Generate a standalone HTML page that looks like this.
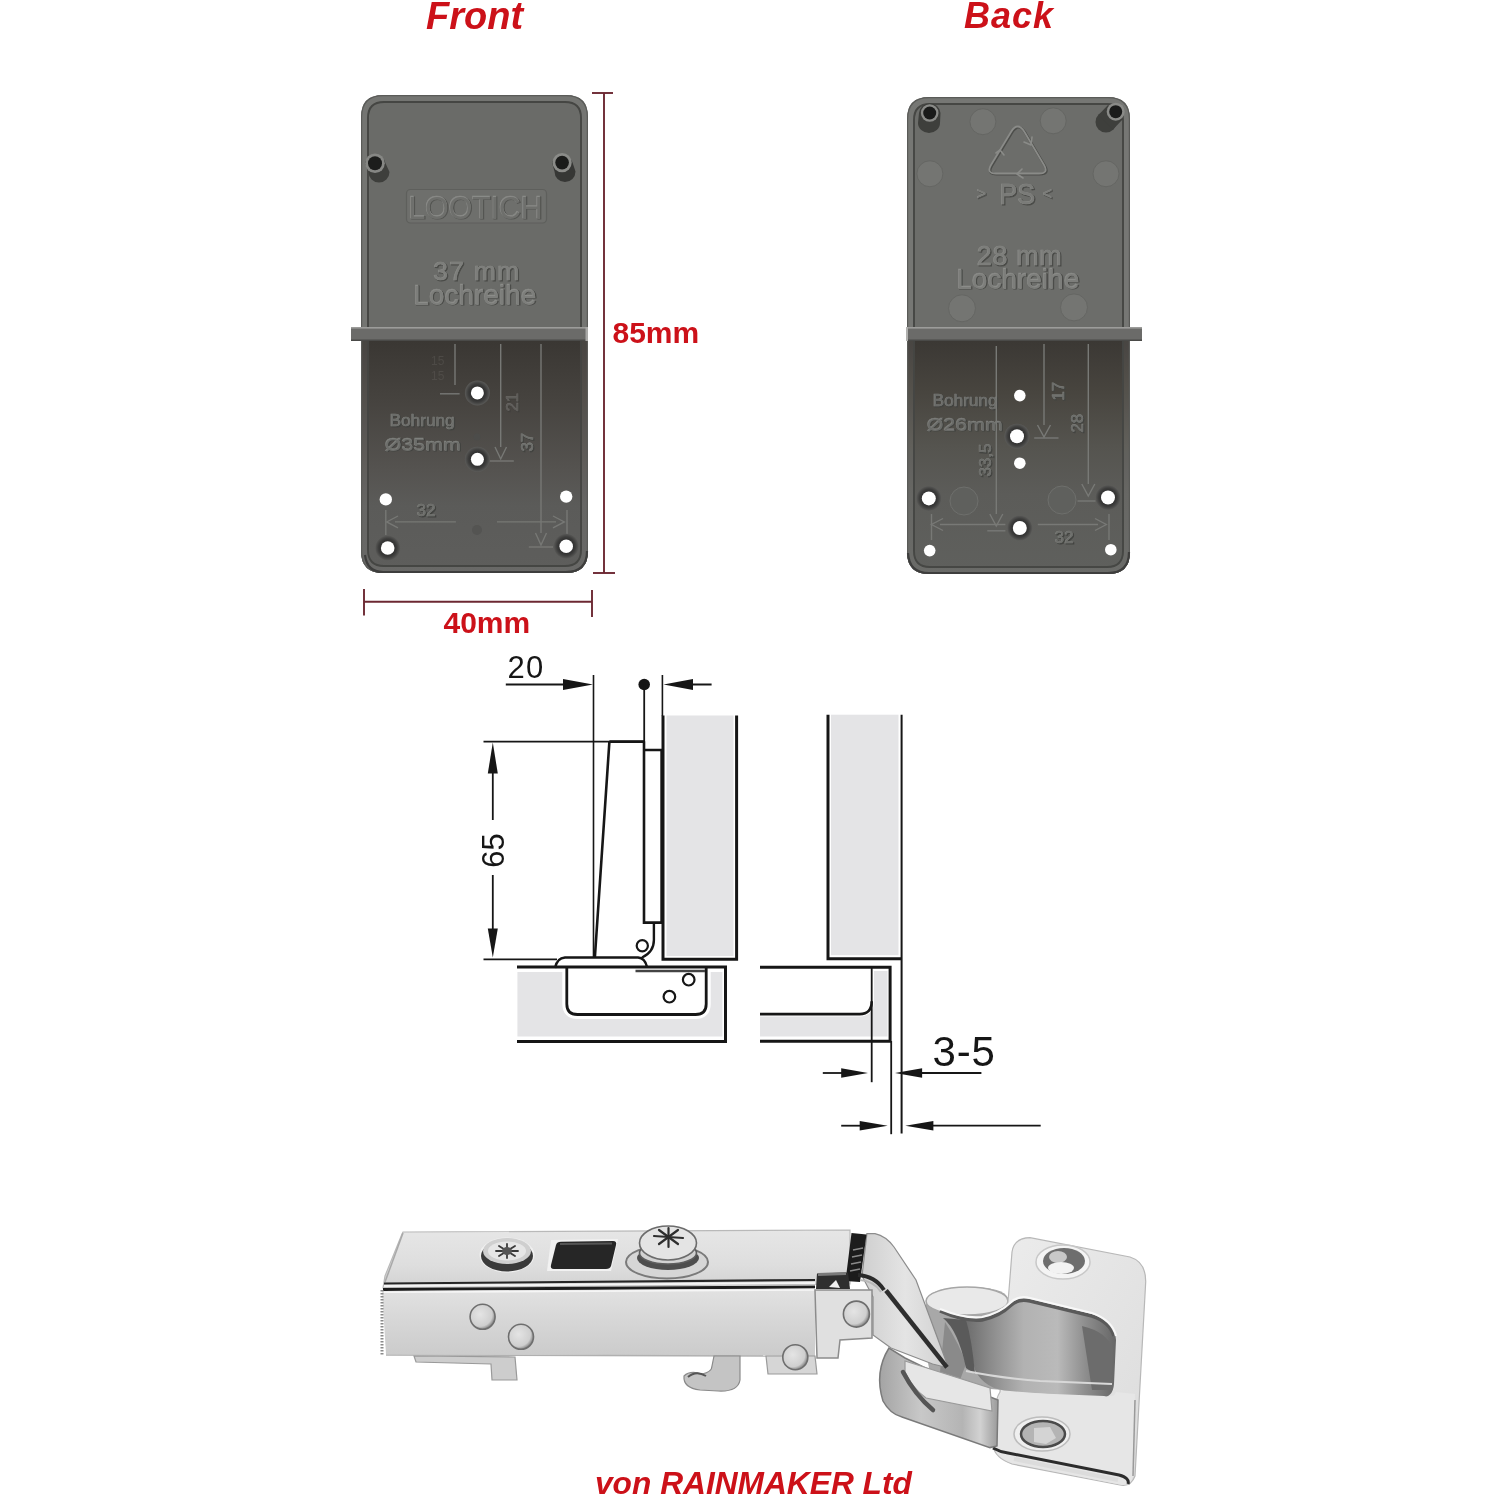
<!DOCTYPE html>
<html><head><meta charset="utf-8">
<style>
html,body{margin:0;padding:0;background:#fff;width:1498px;height:1498px;overflow:hidden}
svg{display:block;will-change:transform}
text{font-family:"Liberation Sans",sans-serif}
</style></head><body>
<svg width="1498" height="1498" viewBox="0 0 1498 1498">
<defs>
<linearGradient id="plateG" x1="0" y1="0" x2="1" y2="0">
<stop offset="0" stop-color="#666"/><stop offset="0.5" stop-color="#6e6e6e"/><stop offset="1" stop-color="#6a6a6a"/>
</linearGradient>
</defs>
<rect width="1498" height="1498" fill="#fff"/>

<!-- TITLES -->
<text x="426" y="29.3" font-size="38" font-weight="bold" font-style="italic" fill="#cc1119">Front</text>
<text x="964" y="27.6" font-size="36" font-weight="bold" font-style="italic" fill="#cc1119" letter-spacing="1">Back</text>

<!-- FRONT PLATE -->
<g id="front">
<defs>
<clipPath id="fclip"><path d="M383,95 H566 Q588,95 588,117 V551 Q588,573 566,573 H383 Q361,573 361,551 V117 Q361,95 383,95 Z"/></clipPath>
<linearGradient id="flow" x1="0" y1="0" x2="0" y2="1">
<stop offset="0" stop-color="#3a3733"/><stop offset="0.25" stop-color="#46433f"/><stop offset="0.55" stop-color="#555350"/><stop offset="0.7" stop-color="#5b5b59"/><stop offset="1" stop-color="#5e5e5c"/>
</linearGradient>
<radialGradient id="csink" cx="0.5" cy="0.5" r="0.5">
<stop offset="0.45" stop-color="#2a2a2a"/><stop offset="0.75" stop-color="#3e3e3d"/><stop offset="1" stop-color="#5a5a58"/>
</radialGradient>
</defs>
<path d="M383,95 H566 Q588,95 588,117 V551 Q588,573 566,573 H383 Q361,573 361,551 V117 Q361,95 383,95 Z" fill="#6a6b68"/>
<g clip-path="url(#fclip)">
<rect x="355" y="341" width="240" height="235" fill="url(#flow)"/>
</g>
<!-- rim -->
<path d="M383.5,98.3 H565.5 Q584.7,98.3 584.7,117.5 V550.5 Q584.7,569.7 565.5,569.7 H383.5 Q364.3,569.7 364.3,550.5 V117.5 Q364.3,98.3 383.5,98.3 Z" fill="none" stroke="rgba(255,255,255,0.07)" stroke-width="6.5"/>
<path d="M384,102 H565 Q581,102 581,118 V550 Q581,566 565,566 H384 Q368,566 368,550 V118 Q368,102 384,102 Z" fill="none" stroke="#454643" stroke-width="1.9"/>
<path d="M383,95.6 H566 Q587.4,95.6 587.4,117 V551 Q587.4,572.4 566,572.4 H383 Q361.6,572.4 361.6,551 V117 Q361.6,95.6 383,95.6 Z" fill="none" stroke="#5a5b58" stroke-width="1.2"/>
<path d="M365,555 Q367,572 383,572 H566 Q587,572 587,551" fill="none" stroke="#3e3e3d" stroke-width="2.2"/>
<!-- ledge -->
<rect x="351" y="327" width="237" height="14" fill="#6b6b69"/>
<rect x="351" y="327" width="237" height="1.6" fill="#9c9c9a"/>
<rect x="351" y="339.5" width="237" height="1.5" fill="#4a4a48"/>
<rect x="585.5" y="327" width="2.5" height="14" fill="#a8a8a6"/>
<!-- pins -->
<g>
<path d="M365,163.2 A10.5,10.5 0 0 1 385.5,163.2 L389.5,172 A10.5,10.5 0 0 1 368.5,172 Z" fill="#3e3f3c"/>
<circle cx="375" cy="163.2" r="9.8" fill="#868784"/>
<circle cx="375" cy="163.2" r="7" fill="#1c1d1c"/>
<path d="M552,162.6 A10.5,10.5 0 0 1 572.5,162.6 L575.5,171.5 A10.5,10.5 0 0 1 554.5,171.5 Z" fill="#363735"/>
<circle cx="562.1" cy="162.6" r="9.6" fill="#8a8b88"/>
<circle cx="562.1" cy="162.6" r="6.8" fill="#1a1b1a"/>
</g>
<!-- LOOTICH -->
<rect x="406.5" y="189.5" width="140" height="33.5" rx="4" fill="#6e6f6c" stroke="#5e5f5c" stroke-width="1.2"/>
<!-- 37 mm Lochreihe -->
<!-- embossed lines lower -->
<g stroke="#777875" stroke-width="1.4" fill="none">
<line x1="500.7" y1="344" x2="500.7" y2="447"/>
<path d="M495,447 L500.7,459 L506.5,447"/>
<line x1="489.5" y1="461" x2="513.8" y2="461"/>
<line x1="541" y1="344" x2="541" y2="533"/>
<path d="M535.5,533 L541,545 L546.5,533"/>
<line x1="528.8" y1="547" x2="553" y2="547"/>
<line x1="395" y1="521.9" x2="455.9" y2="521.9"/>
<path d="M398,516 L386.7,521.9 L398,527.8"/>
<line x1="497" y1="521.9" x2="556" y2="521.9"/>
<path d="M553,516 L564.3,521.9 L553,527.8"/>
<line x1="385.8" y1="510" x2="385.8" y2="535"/>
<line x1="567" y1="510" x2="567" y2="535"/>
<line x1="440" y1="393.8" x2="459.6" y2="393.8"/>
<line x1="455" y1="344" x2="455" y2="385"/>
</g>
<!--TXT-->
<text x="409.3" y="219.3" font-size="31" fill="#545552" stroke="#545552" stroke-width="1.1" textLength="134" lengthAdjust="spacingAndGlyphs">LOOTICH</text>
<text x="408.1" y="218.1" font-size="31" fill="#8a8b88" stroke="#8a8b88" stroke-width="0.6" textLength="134" lengthAdjust="spacingAndGlyphs">LOOTICH</text>
<text x="408.5" y="218.5" font-size="31" fill="#6e6f6c" stroke="#6e6f6c" stroke-width="0.0" textLength="134" lengthAdjust="spacingAndGlyphs">LOOTICH</text>
<text x="434.3" y="280.8" font-size="26.5" fill="#4a4b48" stroke="#4a4b48" stroke-width="1.0" textLength="86" lengthAdjust="spacing">37 mm</text>
<text x="433.1" y="279.6" font-size="26.5" fill="#8b8c89" stroke="#8b8c89" stroke-width="0.5" textLength="86" lengthAdjust="spacing">37 mm</text>
<text x="433.5" y="280.0" font-size="26.5" fill="#7d7e7b" stroke="#7d7e7b" stroke-width="0.0" textLength="86" lengthAdjust="spacing">37 mm</text>
<text x="414.3" y="305.3" font-size="28" fill="#4a4b48" stroke="#4a4b48" stroke-width="1.0" >Lochreihe</text>
<text x="413.1" y="304.1" font-size="28" fill="#8b8c89" stroke="#8b8c89" stroke-width="0.5" >Lochreihe</text>
<text x="413.5" y="304.5" font-size="28" fill="#7d7e7b" stroke="#7d7e7b" stroke-width="0.0" >Lochreihe</text>
<text x="390.8" y="426.8" font-size="17" fill="#424340" stroke="#424340" stroke-width="0.9" textLength="65" lengthAdjust="spacingAndGlyphs">Bohrung</text>
<text x="389.6" y="425.6" font-size="17" fill="#7f807d" stroke="#7f807d" stroke-width="0.4" textLength="65" lengthAdjust="spacingAndGlyphs">Bohrung</text>
<text x="390.0" y="426.0" font-size="17" fill="#6c6d6a" stroke="#6c6d6a" stroke-width="0.0" textLength="65" lengthAdjust="spacingAndGlyphs">Bohrung</text>
<text x="385.8" y="451.3" font-size="17" fill="#424340" stroke="#424340" stroke-width="0.9" textLength="76" lengthAdjust="spacingAndGlyphs">Ø35mm</text>
<text x="384.6" y="450.1" font-size="17" fill="#7f807d" stroke="#7f807d" stroke-width="0.4" textLength="76" lengthAdjust="spacingAndGlyphs">Ø35mm</text>
<text x="385.0" y="450.5" font-size="17" fill="#6c6d6a" stroke="#6c6d6a" stroke-width="0.0" textLength="76" lengthAdjust="spacingAndGlyphs">Ø35mm</text>
<text x="417.8" y="516.8" font-size="17" fill="#424340" stroke="#424340" stroke-width="0.9" >32</text>
<text x="416.6" y="515.5" font-size="17" fill="#7f807d" stroke="#7f807d" stroke-width="0.4" >32</text>
<text x="417.0" y="516.0" font-size="17" fill="#6c6d6a" stroke="#6c6d6a" stroke-width="0.0" >32</text>
<text transform="translate(533.8,452.8) rotate(-90)" font-size="17" fill="#424340" stroke="#424340" stroke-width="0.9" >37</text>
<text transform="translate(532.5,451.6) rotate(-90)" font-size="17" fill="#7f807d" stroke="#7f807d" stroke-width="0.4" >37</text>
<text transform="translate(533.0,452.0) rotate(-90)" font-size="17" fill="#6c6d6a" stroke="#6c6d6a" stroke-width="0.0" >37</text>
<text transform="translate(518.8,412.8) rotate(-90)" font-size="17" fill="#42403d" stroke="#42403d" stroke-width="0.9" >21</text>
<text transform="translate(517.5,411.6) rotate(-90)" font-size="17" fill="#6f6d6a" stroke="#6f6d6a" stroke-width="0.4" >21</text>
<text transform="translate(518.0,412.0) rotate(-90)" font-size="17" fill="#5e5c59" stroke="#5e5c59" stroke-width="0.0" >21</text>
<text x="431" y="365" font-size="12" fill="#4d4a46">15</text>
<text x="431" y="380" font-size="12" fill="#4f4c48">15</text>
<!-- holes -->
<circle cx="477.4" cy="392.9" r="12.5" fill="url(#csink)"/>
<circle cx="477.4" cy="392.9" r="6.5" fill="#fff"/>
<circle cx="477.4" cy="459.3" r="12.5" fill="url(#csink)"/>
<circle cx="477.4" cy="459.3" r="6.5" fill="#fff"/>
<circle cx="385.8" cy="499.4" r="6.2" fill="#fff"/>
<circle cx="566.2" cy="496.6" r="6.2" fill="#fff"/>
<circle cx="387.7" cy="548" r="12.5" fill="url(#csink)"/>
<circle cx="387.7" cy="548" r="6.8" fill="#fff"/>
<circle cx="566.2" cy="546.2" r="12.5" fill="url(#csink)"/>
<circle cx="566.2" cy="546.2" r="6.8" fill="#fff"/>
<circle cx="477" cy="437" r="3.5" fill="#4c4c4a"/>
<circle cx="477" cy="530" r="5" fill="#545452"/>
</g>

<!-- BACK PLATE -->
<g id="back">
<defs>
<clipPath id="bclip"><path d="M929,97 H1108 Q1130,97 1130,119 V552 Q1130,574 1108,574 H929 Q907,574 907,552 V119 Q907,97 929,97 Z"/></clipPath>
<linearGradient id="blow" x1="0" y1="0" x2="0" y2="1">
<stop offset="0" stop-color="#3b3834"/><stop offset="0.22" stop-color="#48453f"/><stop offset="0.45" stop-color="#55544f"/><stop offset="0.65" stop-color="#5c5c59"/><stop offset="1" stop-color="#5f605d"/>
</linearGradient>
</defs>
<path d="M929,97 H1108 Q1130,97 1130,119 V552 Q1130,574 1108,574 H929 Q907,574 907,552 V119 Q907,97 929,97 Z" fill="#6c6d6a"/>
<g clip-path="url(#bclip)">
<rect x="900" y="341" width="240" height="235" fill="url(#blow)"/>
</g>
<path d="M929.5,100.3 H1107.5 Q1126.7,100.3 1126.7,119.5 V551.5 Q1126.7,570.7 1107.5,570.7 H929.5 Q910.3,570.7 910.3,551.5 V119.5 Q910.3,100.3 929.5,100.3 Z" fill="none" stroke="rgba(255,255,255,0.07)" stroke-width="6.5"/>
<path d="M930,104 H1107 Q1123,104 1123,120 V551 Q1123,567 1107,567 H930 Q914,567 914,551 V120 Q914,104 930,104 Z" fill="none" stroke="#464744" stroke-width="1.9"/>
<path d="M929,97.6 H1108 Q1129.4,97.6 1129.4,119 V552 Q1129.4,573.4 1108,573.4 H929 Q907.6,573.4 907.6,552 V119 Q907.6,97.6 929,97.6 Z" fill="none" stroke="#5a5b58" stroke-width="1.2"/>
<path d="M908,553 Q909,573 929,573 H1108 Q1129,573 1129,552" fill="none" stroke="#3e3e3d" stroke-width="2.2"/>
<!-- ledge -->
<rect x="907" y="327" width="235" height="14" fill="#6b6b69"/>
<rect x="907" y="327" width="235" height="1.6" fill="#9c9c9a"/>
<rect x="907" y="339.5" width="235" height="1.5" fill="#4a4a48"/>
<rect x="906" y="327" width="2" height="14" fill="#b0b0ae"/>
<!-- faint circles -->
<g fill="#747572" stroke="#656663" stroke-width="1">
<circle cx="982.9" cy="121.7" r="13"/>
<circle cx="1053.2" cy="120.8" r="13"/>
<circle cx="929.9" cy="173.75" r="13"/>
<circle cx="1106" cy="173.75" r="13"/>
<circle cx="962" cy="308.3" r="13.5"/>
<circle cx="1074" cy="307.4" r="13.5"/>
</g>
<g fill="#5f605d" stroke="#6e6f6c" stroke-width="1">
<circle cx="964" cy="501" r="14"/>
<circle cx="1062" cy="500" r="14"/>
</g>
<!-- pins -->
<path d="M919,113 A10.8,10.8 0 0 1 940.5,113 L940,123 A11,10 0 0 1 918,123 Z" fill="#3e3f3c"/>
<circle cx="929.7" cy="113" r="8.8" fill="#8a8b88"/>
<circle cx="929.7" cy="113" r="6.5" fill="#1a1b1a"/>
<circle cx="1106" cy="122" r="10.5" fill="#3e3f3c"/>
<path d="M1108.5,104.5 L1123,119 L1113,129.5 L1098.5,115 Z" fill="#3e3f3c"/>
<circle cx="1115.7" cy="111.7" r="9" fill="#8a8b88"/>
<circle cx="1115.7" cy="111.7" r="6.5" fill="#1a1b1a"/>
<!-- recycle triangle -->
<g fill="none" stroke-linejoin="round" stroke-linecap="round">
<path d="M1011,132 Q1017.6,121 1024.5,132 L1044,165 Q1049,173.5 1039,173.5 L996,173.5 Q986,173.5 991,165 Z" stroke="#4c4d4a" stroke-width="2.6" transform="translate(0.8,0.8)"/>
<path d="M1011,132 Q1017.6,121 1024.5,132 L1044,165 Q1049,173.5 1039,173.5 L996,173.5 Q986,173.5 991,165 Z" stroke="#8a8b88" stroke-width="1.8"/>
<path d="M1024,142 L1031,145 L1032,137 M1022,169 L1017,174 L1023,178 M996,153 L1000,150 L1004,155" stroke="#8a8b88" stroke-width="1.6"/>
</g>
<!--TXT-->
<text x="977.8" y="199.8" font-size="16" fill="#50514e" stroke="#50514e" stroke-width="0.9" >&gt;</text>
<text x="976.5" y="198.6" font-size="16" fill="#8a8b88" stroke="#8a8b88" stroke-width="0.4" >&gt;</text>
<text x="977.0" y="199.0" font-size="16" fill="#7a7b78" stroke="#7a7b78" stroke-width="0.0" >&gt;</text>
<text x="1043.8" y="199.8" font-size="16" fill="#50514e" stroke="#50514e" stroke-width="0.9" >&lt;</text>
<text x="1042.5" y="198.6" font-size="16" fill="#8a8b88" stroke="#8a8b88" stroke-width="0.4" >&lt;</text>
<text x="1043.0" y="199.0" font-size="16" fill="#7a7b78" stroke="#7a7b78" stroke-width="0.0" >&lt;</text>
<text x="1000.3" y="204.8" font-size="29" fill="#4a4b48" stroke="#4a4b48" stroke-width="1.0" textLength="36" lengthAdjust="spacingAndGlyphs">PS</text>
<text x="999.0" y="203.6" font-size="29" fill="#8b8c89" stroke="#8b8c89" stroke-width="0.5" textLength="36" lengthAdjust="spacingAndGlyphs">PS</text>
<text x="999.5" y="204.0" font-size="29" fill="#7a7b78" stroke="#7a7b78" stroke-width="0.0" textLength="36" lengthAdjust="spacingAndGlyphs">PS</text>
<text x="977.8" y="265.8" font-size="27" fill="#4a4b48" stroke="#4a4b48" stroke-width="1.0" textLength="85" lengthAdjust="spacing">28 mm</text>
<text x="976.5" y="264.6" font-size="27" fill="#8b8c89" stroke="#8b8c89" stroke-width="0.5" textLength="85" lengthAdjust="spacing">28 mm</text>
<text x="977.0" y="265.0" font-size="27" fill="#7d7e7b" stroke="#7d7e7b" stroke-width="0.0" textLength="85" lengthAdjust="spacing">28 mm</text>
<text x="957.3" y="289.3" font-size="28" fill="#4a4b48" stroke="#4a4b48" stroke-width="1.0" textLength="123" lengthAdjust="spacingAndGlyphs">Lochreihe</text>
<text x="956.0" y="288.1" font-size="28" fill="#8b8c89" stroke="#8b8c89" stroke-width="0.5" textLength="123" lengthAdjust="spacingAndGlyphs">Lochreihe</text>
<text x="956.5" y="288.5" font-size="28" fill="#7d7e7b" stroke="#7d7e7b" stroke-width="0.0" textLength="123" lengthAdjust="spacingAndGlyphs">Lochreihe</text>
<text x="933.8" y="406.8" font-size="17" fill="#434441" stroke="#434441" stroke-width="0.9" textLength="65" lengthAdjust="spacingAndGlyphs">Bohrung</text>
<text x="932.5" y="405.6" font-size="17" fill="#7d7e7b" stroke="#7d7e7b" stroke-width="0.4" textLength="65" lengthAdjust="spacingAndGlyphs">Bohrung</text>
<text x="933.0" y="406.0" font-size="17" fill="#6a6b68" stroke="#6a6b68" stroke-width="0.0" textLength="65" lengthAdjust="spacingAndGlyphs">Bohrung</text>
<text x="927.8" y="431.3" font-size="17" fill="#434441" stroke="#434441" stroke-width="0.9" textLength="76" lengthAdjust="spacingAndGlyphs">Ø26mm</text>
<text x="926.5" y="430.1" font-size="17" fill="#7d7e7b" stroke="#7d7e7b" stroke-width="0.4" textLength="76" lengthAdjust="spacingAndGlyphs">Ø26mm</text>
<text x="927.0" y="430.5" font-size="17" fill="#6a6b68" stroke="#6a6b68" stroke-width="0.0" textLength="76" lengthAdjust="spacingAndGlyphs">Ø26mm</text>
<text x="1055.8" y="543.8" font-size="17" fill="#434441" stroke="#434441" stroke-width="0.9" >32</text>
<text x="1054.5" y="542.5" font-size="17" fill="#7f807d" stroke="#7f807d" stroke-width="0.4" >32</text>
<text x="1055.0" y="543.0" font-size="17" fill="#6c6d6a" stroke="#6c6d6a" stroke-width="0.0" >32</text>
<text transform="translate(1064.8,401.8) rotate(-90)" font-size="17" fill="#434441" stroke="#434441" stroke-width="0.9" >17</text>
<text transform="translate(1063.5,400.6) rotate(-90)" font-size="17" fill="#7f807d" stroke="#7f807d" stroke-width="0.4" >17</text>
<text transform="translate(1064.0,401.0) rotate(-90)" font-size="17" fill="#6c6d6a" stroke="#6c6d6a" stroke-width="0.0" >17</text>
<text transform="translate(1083.8,433.8) rotate(-90)" font-size="17" fill="#434441" stroke="#434441" stroke-width="0.9" >28</text>
<text transform="translate(1082.5,432.6) rotate(-90)" font-size="17" fill="#7f807d" stroke="#7f807d" stroke-width="0.4" >28</text>
<text transform="translate(1083.0,433.0) rotate(-90)" font-size="17" fill="#6c6d6a" stroke="#6c6d6a" stroke-width="0.0" >28</text>
<text transform="translate(991.8,477.8) rotate(-90)" font-size="17" fill="#434441" stroke="#434441" stroke-width="0.9" >33,5</text>
<text transform="translate(990.5,476.6) rotate(-90)" font-size="17" fill="#7f807d" stroke="#7f807d" stroke-width="0.4" >33,5</text>
<text transform="translate(991.0,477.0) rotate(-90)" font-size="17" fill="#6c6d6a" stroke="#6c6d6a" stroke-width="0.0" >33,5</text>
<!-- lower embossed lines -->
<g stroke="#787976" stroke-width="1.4" fill="none">
<line x1="1044" y1="344" x2="1044" y2="425"/>
<path d="M1037.5,425 L1044,437 L1050.5,425"/>
<line x1="1034.2" y1="438" x2="1058.5" y2="438"/>
<line x1="1088.3" y1="344" x2="1088.3" y2="484"/>
<path d="M1081.8,484 L1088.3,496 L1094.8,484"/>
<line x1="1077.5" y1="501" x2="1095.5" y2="501"/>
<line x1="996.3" y1="346" x2="996.3" y2="514"/>
<path d="M989.8,514 L996.3,526 L1002.8,514"/>
<line x1="987.3" y1="530.8" x2="1005.4" y2="530.8"/>
<line x1="940" y1="524.5" x2="1005.4" y2="524.5"/>
<path d="M943,518.5 L931.5,524.5 L943,530.5"/>
<line x1="1037.8" y1="524.5" x2="1098" y2="524.5"/>
<path d="M1095,518.5 L1106.3,524.5 L1095,530.5"/>
<line x1="931.5" y1="514" x2="931.5" y2="540"/>
<line x1="1109" y1="514" x2="1109" y2="540"/>
</g>
<!-- holes -->
<circle cx="1019.8" cy="395.6" r="5.8" fill="#fff"/>
<circle cx="1017" cy="436.2" r="12.5" fill="url(#csink)"/>
<circle cx="1017" cy="436.2" r="7" fill="#fff"/>
<circle cx="1019.8" cy="463.2" r="5.8" fill="#fff"/>
<circle cx="928.8" cy="498.4" r="12.5" fill="url(#csink)"/>
<circle cx="928.8" cy="498.4" r="7" fill="#fff"/>
<circle cx="1108" cy="497.5" r="12.5" fill="url(#csink)"/>
<circle cx="1108" cy="497.5" r="7" fill="#fff"/>
<circle cx="1019.8" cy="528" r="12.5" fill="url(#csink)"/>
<circle cx="1019.8" cy="528" r="7" fill="#fff"/>
<circle cx="929.7" cy="550.6" r="5.8" fill="#fff"/>
<circle cx="1110.8" cy="549.7" r="5.8" fill="#fff"/>
</g>

<!-- RED DIMENSIONS -->
<g stroke="#6c2832" stroke-width="1.9" fill="none">
<line x1="604" y1="93" x2="604" y2="573"/>
<line x1="592" y1="93" x2="613" y2="93"/>
<line x1="593" y1="573" x2="615" y2="573"/>
<line x1="364" y1="601.8" x2="592" y2="601.8"/>
<line x1="364" y1="589" x2="364" y2="615.5"/>
<line x1="592" y1="590" x2="592" y2="617"/>
</g>
<text x="612.5" y="342.8" font-size="30" font-weight="bold" fill="#cc1119">85mm</text>
<text x="443.5" y="632.8" font-size="30" font-weight="bold" fill="#cc1119">40mm</text>

<!-- DIAGRAM -->
<g id="diagram" stroke="#161616" fill="none" stroke-linecap="butt">
<!-- gray fills -->
<rect x="666.5" y="715.5" width="67" height="240.5" fill="#e4e4e6" stroke="none"/>
<rect x="831" y="714.7" width="67.5" height="240.5" fill="#e4e4e6" stroke="none"/>
<rect x="517.4" y="972" width="205" height="64.5" fill="#e4e4e6" stroke="none"/>
<path d="M760,1016.5 H859.7 Q874,1016 874,1001 V971 H887.5 V1036.5 H760 Z" fill="#e4e4e6" stroke="none"/>
<!-- cup recess white -->
<path d="M566.8,968 V1004 Q566.8,1014.5 577.4,1014.5 H695.6 Q706.2,1014.5 706.2,1004 V968 Z" fill="#fff" stroke="#fff" stroke-width="9"/>
<path d="M566.8,968 V1004 Q566.8,1014.5 577.4,1014.5 H695.6 Q706.2,1014.5 706.2,1004 V968" stroke-width="2.8"/>
<line x1="635.5" y1="971" x2="705" y2="971" stroke="#444" stroke-width="2.5"/>
<circle cx="688.7" cy="979.7" r="5.8" stroke-width="2.2" fill="#fff"/>
<circle cx="669.4" cy="996.7" r="5.8" stroke-width="2.2" fill="#fff"/>
<!-- panel 1 outline -->
<path d="M517,967 H725.5 V1041.5 H517" stroke-width="3"/>
<!-- base plate of hinge -->
<path d="M555,968 Q557,958 565,957.5 H638 Q645,958 647,967" fill="none" stroke-width="2.5"/>
<!-- door 1 -->
<path d="M663,715.5 V959.2 H736.6 V715.5" stroke-width="3"/>
<!-- hinge arm -->
<path d="M609.4,741.6 H644 M609.4,741.6 L594.9,957" stroke-width="2.6"/>
<path d="M644,741.6 V922.6 H661.6 V750 H644" stroke-width="2.6"/>
<path d="M653.9,922.6 V940 Q653.9,952 642,957.5" stroke-width="2.4"/>
<circle cx="642.3" cy="945.8" r="5.6" stroke-width="2.2"/>
<!-- dimension lines top -->
<line x1="505.8" y1="684.5" x2="570" y2="684.5" stroke-width="2"/>
<path d="M563,679 L593,684.5 L563,690 Z" fill="#161616" stroke="none"/>
<line x1="593.5" y1="675" x2="593.5" y2="957" stroke-width="1.6"/>
<circle cx="644.2" cy="684.5" r="5.8" fill="#161616" stroke="none"/>
<line x1="644.2" y1="684" x2="644.2" y2="742" stroke-width="1.8"/>
<line x1="662.4" y1="675" x2="662.4" y2="716" stroke-width="1.6"/>
<line x1="711.6" y1="684.5" x2="685" y2="684.5" stroke-width="2"/>
<path d="M693,679 L663.5,684.5 L693,690 Z" fill="#161616" stroke="none"/>
<!-- height dimension -->
<line x1="483.5" y1="741.6" x2="644" y2="741.6" stroke-width="1.6"/>
<line x1="483.5" y1="959.4" x2="557" y2="959.4" stroke-width="1.6"/>
<line x1="492.8" y1="760" x2="492.8" y2="820" stroke-width="1.8"/>
<line x1="492.8" y1="875" x2="492.8" y2="940" stroke-width="1.8"/>
<path d="M487.8,773.6 L492.8,742.6 L497.8,773.6 Z" fill="#161616" stroke="none"/>
<path d="M487.8,928.4 L492.8,957.4 L497.8,928.4 Z" fill="#161616" stroke="none"/>
<!-- door 2 -->
<path d="M828,714.7 V958.7 H901.6" stroke-width="3"/>
<line x1="901.6" y1="714.7" x2="901.6" y2="1133.4" stroke-width="2"/>
<!-- panel 2 -->
<path d="M760,967.3 H890.1 V1041.3 H760" stroke-width="3"/>
<path d="M760,1014.1 H859.7 Q871.7,1014.1 871.7,1001.3" stroke-width="2.6"/>
<line x1="871.7" y1="967.3" x2="871.7" y2="1082.2" stroke-width="1.8"/>
<line x1="891.2" y1="1041" x2="891.2" y2="1134.2" stroke-width="1.8"/>
<!-- 3-5 arrows -->
<line x1="822.8" y1="1073" x2="850" y2="1073" stroke-width="1.8"/>
<path d="M841.2,1068.2 L868,1073 L841.2,1077.8 Z" fill="#161616" stroke="none"/>
<line x1="915" y1="1073" x2="981.4" y2="1073" stroke-width="1.8"/>
<path d="M922.1,1068.2 L895,1073 L922.1,1077.8 Z" fill="#161616" stroke="none"/>
<line x1="841.2" y1="1125.7" x2="865" y2="1125.7" stroke-width="1.8"/>
<path d="M859.7,1120.9 L887.7,1125.7 L859.7,1130.5 Z" fill="#161616" stroke="none"/>
<line x1="925" y1="1125.7" x2="1040.7" y2="1125.7" stroke-width="1.8"/>
<path d="M933.4,1120.9 L905.3,1125.7 L933.4,1130.5 Z" fill="#161616" stroke="none"/>
</g>
<text x="507.5" y="678" font-size="31" letter-spacing="1.2" fill="#161616">20</text>
<text transform="translate(503.9,850.5) rotate(-90)" text-anchor="middle" font-size="31" fill="#161616">65</text>
<text x="932.5" y="1065.8" font-size="42" letter-spacing="0.8" fill="#161616">3-5</text>


<!-- HINGE -->
<g id="hinge">
<defs>
<linearGradient id="hTop" x1="0" y1="0" x2="0" y2="1">
<stop offset="0" stop-color="#e6e6e6"/><stop offset="0.6" stop-color="#dedede"/><stop offset="1" stop-color="#d2d2d2"/>
</linearGradient>
<linearGradient id="hSide" x1="0" y1="0" x2="0" y2="1">
<stop offset="0" stop-color="#e2e2e2"/><stop offset="0.5" stop-color="#d6d6d6"/><stop offset="1" stop-color="#cbcbcb"/>
</linearGradient>
<linearGradient id="hPlate" x1="0" y1="0" x2="1" y2="1">
<stop offset="0" stop-color="#ececec"/><stop offset="1" stop-color="#dcdcdc"/>
</linearGradient>
<linearGradient id="hRecess" x1="0" y1="0" x2="1" y2="0">
<stop offset="0" stop-color="#686868"/><stop offset="0.18" stop-color="#8a8a8a"/><stop offset="0.4" stop-color="#b2b2b2"/><stop offset="0.62" stop-color="#bababa"/><stop offset="0.8" stop-color="#8e8e8e"/><stop offset="1" stop-color="#666666"/>
</linearGradient>
<linearGradient id="hArm" x1="0" y1="0" x2="1" y2="0">
<stop offset="0" stop-color="#cfcfcf"/><stop offset="0.5" stop-color="#e4e4e4"/><stop offset="1" stop-color="#d0d0d0"/>
</linearGradient>
<linearGradient id="hLow" x1="0" y1="0" x2="1" y2="0">
<stop offset="0" stop-color="#a4a4a4"/><stop offset="0.35" stop-color="#c8c8c8"/><stop offset="0.7" stop-color="#b4b4b4"/><stop offset="0.85" stop-color="#d2d2d2"/><stop offset="1" stop-color="#9a9a9a"/>
</linearGradient>
<radialGradient id="hRiv" cx="0.4" cy="0.4" r="0.6">
<stop offset="0" stop-color="#e4e4e4"/><stop offset="0.8" stop-color="#cfcfcf"/><stop offset="1" stop-color="#8e8e8e"/>
</radialGradient>
</defs>

<!-- cup behind -->
<path d="M926,1300 Q930,1288 966,1287 Q1004,1287 1008,1298 L1004,1390 L935,1385 Q922,1360 926,1300 Z" fill="#a8a8a8"/>
<ellipse cx="967" cy="1301" rx="41" ry="14" fill="#e9e9e9" stroke="#a6a6a6" stroke-width="1.5"/>
<path d="M945,1322 Q960,1345 966,1364 L960,1380 L940,1372 Z" fill="#8a8a8a"/>

<!-- mounting plate -->
<path d="M1030,1237.7 Q1014,1238 1012,1252 L1009,1290 L1000,1392 Q996,1398 995,1410 L993,1446 Q995,1458 1012,1464 L1120,1485 Q1131,1487 1135,1476 L1145.7,1282 Q1146,1262 1130,1257 Z" fill="url(#hPlate)" stroke="#b8b8b8" stroke-width="1.2"/>
<!-- recess -->
<path d="M1012,1303 Q1020,1296 1030,1299 L1090,1314 Q1115,1322 1116,1340 L1114,1384 Q1113,1399 1098,1398 L1010,1391 Q985,1390 975,1370 L962,1318 Q990,1322 1012,1303 Z" fill="url(#hRecess)"/>
<path d="M943,1318 Q958,1330 966,1368 L975,1374 Q972,1340 966,1320 Z" fill="#5a5a5a"/>
<path d="M1082,1326 Q1108,1332 1113,1350 L1111,1390 L1092,1390 Z" fill="#6c6c6c"/>
<path d="M940,1311 Q965,1322 982,1320 Q1000,1316 1010,1306 Q1018,1298 1030,1301 L1092,1316 Q1110,1322 1114,1336" fill="none" stroke="#5a5a5a" stroke-width="3.5"/>
<path d="M940,1309 Q965,1319 982,1317 Q1000,1313 1010,1303 Q1018,1295 1030,1298 L1092,1313 Q1112,1320 1116,1336" fill="none" stroke="#f8f8f8" stroke-width="2.2"/>
<!-- lower ear of plate (light) -->
<path d="M1010,1392.3 L1104,1396 Q1114,1398 1116,1392 L1135,1394 L1133,1476 Q1131,1486 1122,1485 L1012,1463 Q996,1456 995,1442 L998,1405 Q999,1391 1010,1392.3 Z" fill="#e6e6e6"/>
<path d="M966,1371 Q1000,1378 1040,1381 L1112,1384" fill="none" stroke="#d8d8d8" stroke-width="2"/>
<!-- screw holes in plate -->
<ellipse cx="1063" cy="1262" rx="27" ry="17" fill="#f4f4f4" stroke="#c8c8c8" stroke-width="1.5"/>
<ellipse cx="1064" cy="1261" rx="21" ry="13" fill="#6e6e6e"/>
<ellipse cx="1058" cy="1257" rx="9" ry="6" fill="#c8c8c8"/>
<ellipse cx="1061" cy="1268" rx="13" ry="6" fill="#f2f2f2"/>
<ellipse cx="1042" cy="1434" rx="28" ry="17" fill="#efefef" stroke="#bdbdbd" stroke-width="1.5"/>
<ellipse cx="1043" cy="1434" rx="22" ry="13" fill="#b4b4b4" stroke="#4a4a4a" stroke-width="2.5"/>
<path d="M1034,1428 L1050,1427 L1056,1438 L1046,1444 L1034,1442 Z" fill="#d4d4d4"/>
<!-- bottom edge dark -->
<path d="M993,1448 Q1000,1452 1008,1453 L1119,1475 Q1130,1478 1128,1484" fill="none" stroke="#2c2c2c" stroke-width="3"/>
<path d="M1014,1459 L1118,1480" fill="none" stroke="#dcdcdc" stroke-width="4"/>
<path d="M1135,1400 L1133,1476" fill="none" stroke="#9a9a9a" stroke-width="1.5"/>

<!-- lower curved arm -->
<path d="M889,1348 Q874,1372 883,1401 Q890,1414 902,1417 L990,1447.6 L997,1446 L998,1400 L960,1385 L905,1358 Z" fill="url(#hLow)" stroke="#7a7a7a" stroke-width="1.5"/>
<!-- lower light link -->
<path d="M905,1361 L990,1388 L992,1411 L926,1398 Q912,1388 905,1372 Z" fill="#e6e6e6" stroke="#9a9a9a" stroke-width="1.2"/>
<path d="M903,1372 Q915,1395 933,1410" fill="none" stroke="#555" stroke-width="4.5" stroke-linecap="round"/>

<!-- upper slanted arm -->
<path d="M866.9,1233.6 L875,1233.6 Q886,1236 894,1247 L916,1280 L948.6,1368 L932.6,1364 L891,1348 L873,1335 L873,1297 L862,1276 Z" fill="url(#hArm)" stroke="#8c8c8c" stroke-width="1.2"/>
<path d="M886,1290.5 L947,1367.4" stroke="#2e2e2e" stroke-width="4.5"/>

<!-- arm body top face -->
<path d="M403,1232 L850,1230 L850,1284 L383,1288 L385,1276 L402,1234 Z" fill="url(#hTop)" stroke="#b9b9b9" stroke-width="1.2"/>
<path d="M403,1233 L385,1282" stroke="#a8a8a8" stroke-width="1.5"/>
<!-- dark edge line -->
<path d="M384,1283.5 L815,1280" stroke="#262626" stroke-width="2.2" fill="none"/>
<path d="M384,1286 L815,1283" stroke="#f4f4f4" stroke-width="2" fill="none"/>
<path d="M383,1289.5 L815,1287" stroke="#1c1c1c" stroke-width="3.2" fill="none"/>
<!-- side face -->
<path d="M382,1291 L815,1288.5 L815,1356 L386,1354 Z" fill="url(#hSide)"/>
<path d="M384,1292.3 L815,1290" stroke="#f6f6f6" stroke-width="1.6" fill="none"/>
<path d="M382,1290 L382,1355" stroke="#8a8a8a" stroke-width="3" stroke-dasharray="1.5 1.5"/>
<path d="M386,1355 L815,1356" stroke="#b0b0b0" stroke-width="1.5"/>
<!-- tab & hook & lower part -->
<path d="M414,1356 L515,1357 L517,1380 L492,1380 L491,1364 L416,1362 Z" fill="#cdcdcd" stroke="#9a9a9a" stroke-width="1.2"/>
<path d="M714,1356 L740,1356 L740,1380 Q738,1392 718,1391 L700,1390 Q683,1388 684,1376 Q690,1370 702,1374 Q712,1372 712,1366 Z" fill="#c4c4c4" stroke="#8a8a8a" stroke-width="1.2"/>
<path d="M688,1377 Q696,1370 706,1376" stroke="#555" stroke-width="2" fill="none"/>
<path d="M766,1356 L815,1356 L817,1374 L768,1374 Z" fill="#d6d6d6" stroke="#9a9a9a" stroke-width="1.2"/>
<!-- link plate -->
<path d="M815,1290 L872,1290 L872,1338 L840,1340 L838,1358 L817,1358 Z" fill="#e0e0e0" stroke="#8c8c8c" stroke-width="1.5"/>
<!-- knuckle dark -->
<path d="M851.5,1233 L866.5,1234.5 L860,1282 L845.5,1281 Z" fill="#1c1c1c"/>
<path d="M853,1250 L863,1248 M852,1257 L862,1255 M851,1264 L861,1262 M850,1271 L860,1269" stroke="#8a8a8a" stroke-width="1.6"/>
<path d="M817,1273.5 L848,1272.5 L850,1289 L816,1289 Z" fill="#2e2e2e"/>
<path d="M818,1274.5 L846,1273.5" stroke="#7a7a7a" stroke-width="3"/>
<path d="M829,1287 L836,1280 L840,1288 Z" fill="#f0f0f0"/>
<path d="M858,1275 Q875,1276 884,1290" stroke="#2a2a2a" stroke-width="4" fill="none"/>
<path d="M860,1280 Q874,1281 881,1292" stroke="#b8b8b8" stroke-width="2" fill="none"/>
<!-- rivets -->
<circle cx="482.6" cy="1316.8" r="12.5" fill="url(#hRiv)" stroke="#6e6e6e" stroke-width="1.6"/>
<circle cx="521" cy="1336.8" r="12.5" fill="url(#hRiv)" stroke="#6e6e6e" stroke-width="1.6"/>
<circle cx="795.3" cy="1357.2" r="12.5" fill="url(#hRiv)" stroke="#6e6e6e" stroke-width="1.6"/>
<circle cx="856.4" cy="1314.1" r="13" fill="url(#hRiv)" stroke="#6e6e6e" stroke-width="1.6"/>
<!-- square hole -->
<path d="M551,1240 L618,1239 L611,1271 L547,1271 Z" fill="#f2f2f2"/>
<path d="M561,1241.7 L613,1241 Q617,1241 616,1245 L611,1266 Q610,1269 606,1269 L554,1269 Q550,1269 551,1265 L556,1245 Q557,1241.7 561,1241.7 Z" fill="#262626"/>
<path d="M560,1244 L612,1243.5" stroke="#555" stroke-width="2"/>
<!-- screw 1 -->
<ellipse cx="507" cy="1255" rx="27.5" ry="17.5" fill="#f0f0f0"/>
<ellipse cx="507" cy="1256" rx="26" ry="15.5" fill="#3a3a3a"/>
<ellipse cx="507" cy="1251" rx="24" ry="13" fill="#cfcfcf"/>
<ellipse cx="507" cy="1251" rx="19" ry="9.5" fill="#e6e6e6"/>
<g stroke="#3a3a3a" stroke-width="1.8" stroke-linecap="round">
<line x1="496" y1="1251" x2="518" y2="1251"/>
<line x1="507" y1="1244" x2="507" y2="1258"/>
<line x1="499" y1="1246" x2="515" y2="1256"/>
<line x1="499" y1="1256" x2="515" y2="1246"/>
</g>
<ellipse cx="507" cy="1251" rx="5" ry="4" fill="#555"/>
<!-- screw 2 -->
<ellipse cx="667" cy="1262" rx="41" ry="16.5" fill="#d6d6d6" stroke="#7a7a7a" stroke-width="2"/>
<ellipse cx="668" cy="1258" rx="31" ry="12" fill="#4e4e4e"/>
<ellipse cx="668" cy="1253" rx="28.5" ry="11" fill="#d2d2d2" stroke="#5e5e5e" stroke-width="1.6"/>
<ellipse cx="668" cy="1243" rx="28.5" ry="17" fill="#e4e4e4" stroke="#6c6c6c" stroke-width="1.6"/>
<g stroke="#2e2e2e" stroke-width="2.2" stroke-linecap="round">
<line x1="654" y1="1236" x2="683" y2="1238"/>
<line x1="668.5" y1="1228" x2="668.5" y2="1247"/>
<line x1="659" y1="1230" x2="678" y2="1244"/>
<line x1="659" y1="1244" x2="678" y2="1230"/>
</g>
</g>

<text x="595" y="1494.3" font-size="31.7" font-weight="bold" font-style="italic" fill="#cc1119">von RAINMAKER Ltd</text>
</svg>
</body></html>
